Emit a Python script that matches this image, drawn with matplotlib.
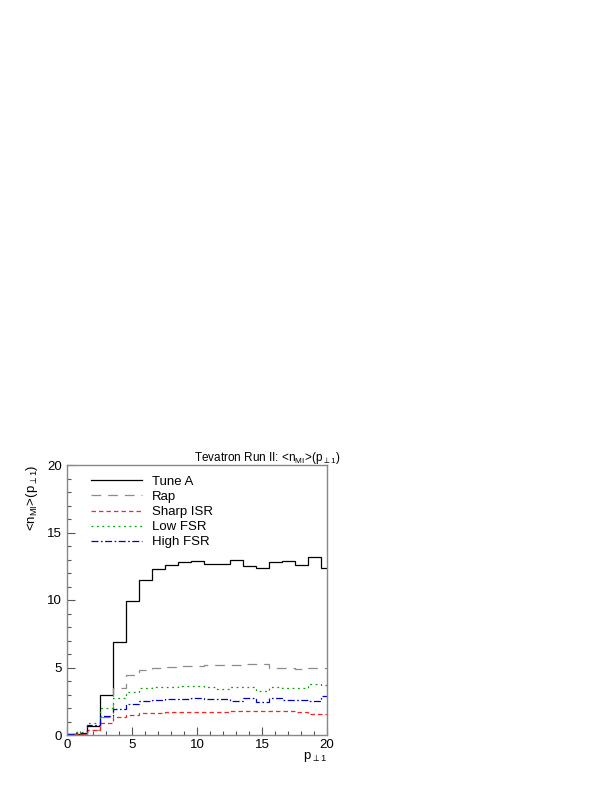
import matplotlib
matplotlib.use("Agg")
import matplotlib.pyplot as plt
import numpy as np
from matplotlib.ticker import MultipleLocator

plt.rcParams['font.family'] = ['Liberation Sans', 'DejaVu Sans']
plt.rcParams['lines.scale_dashes'] = False
plt.rcParams['mathtext.fontset'] = 'custom'
plt.rcParams['mathtext.rm'] = 'Liberation Sans'
plt.rcParams['mathtext.it'] = 'Liberation Sans'

bin_edges = [0, 0.5] + [i + 0.5 for i in range(1, 20)] + [20]
tune_a = [0.05, 0.1, 0.7, 3.0, 6.9, 9.9, 11.5, 12.3, 12.6, 12.8, 12.9, 12.7, 12.7, 13.0, 12.5, 12.4, 12.8, 12.9, 12.6, 13.2, 12.4]
rap = [0.05, 0.1, 0.4, 1.3, 3.5, 4.45, 4.85, 5.0, 5.07, 5.1, 5.1, 5.16, 5.2, 5.15, 5.23, 5.23, 5.0, 5.0, 4.88, 5.0, 4.95]
sharp_isr = [0.02, 0.05, 0.37, 0.86, 1.3, 1.48, 1.63, 1.65, 1.68, 1.7, 1.73, 1.73, 1.72, 1.75, 1.75, 1.75, 1.75, 1.8, 1.73, 1.58, 1.56]
low_fsr = [0.1, 0.2, 0.86, 1.98, 2.75, 3.18, 3.46, 3.53, 3.58, 3.6, 3.63, 3.58, 3.42, 3.53, 3.53, 3.28, 3.53, 3.5, 3.46, 3.75, 3.68]
high_fsr = [0.05, 0.15, 0.74, 1.4, 1.9, 2.3, 2.5, 2.62, 2.64, 2.64, 2.77, 2.67, 2.67, 2.54, 2.72, 2.47, 2.72, 2.6, 2.59, 2.52, 2.89]

series = [
    ("Tune A", tune_a, "black", "-"),
    ("Rap", rap, "#8c8c8c", (0, (7, 5))),
    ("Sharp ISR", sharp_isr, "#ff2020", (0, (3.2, 2.2))),
    ("Low FSR", low_fsr, "#00a000", (0, (1.3, 2.6))),
    ("High FSR", high_fsr, "#0000cc", (0, (5, 1.8, 1.2, 1.8))),
]

fig = plt.figure(figsize=(6.12, 7.92), dpi=100)
ax = fig.add_axes([67/612, 1-735/792, 260/612, 270/792])

for label, vals, col, ls in series:
    ax.stairs(vals, bin_edges, color=col, linestyle=ls, linewidth=0.9, label=label, baseline=None)

ax.set_xlim(0, 20)
ax.set_ylim(0, 20)
ax.xaxis.set_major_locator(MultipleLocator(5))
ax.xaxis.set_minor_locator(MultipleLocator(1))
ax.yaxis.set_major_locator(MultipleLocator(5))
ax.yaxis.set_minor_locator(MultipleLocator(1))
ax.tick_params(which='both', direction='in', top=False, right=False, labelsize=9.5, color='#555555', width=0.8)
ax.tick_params(which='major', length=6)
ax.tick_params(which='minor', length=3.2)
ax.tick_params(axis='x', pad=3)
for sp in ax.spines.values():
    sp.set_color('#888888')
    sp.set_linewidth(1.0)

leg = ax.legend(loc='upper left', bbox_to_anchor=(0.06, 0.99), frameon=False, fontsize=9.5,
                handlelength=3.9, handletextpad=0.75, labelspacing=0.22, borderaxespad=0.2)

fig.text(267/612, 1-458/792, r"Tevatron Run II: <n$_{\rm MI}$>(p$_{\perp 1}$)", ha='center', va='center', fontsize=8.5)
fig.text(32/612, 1-465/792, r"<n$_{\rm MI}$>(p$_{\perp 1}$)", rotation=90, ha='center', va='top', fontsize=9.5)
fig.text(327/612, 1-757/792, r"p$_{\perp 1}$", ha='right', va='center', fontsize=9.5)

fig.savefig("out.png", dpi=100)
